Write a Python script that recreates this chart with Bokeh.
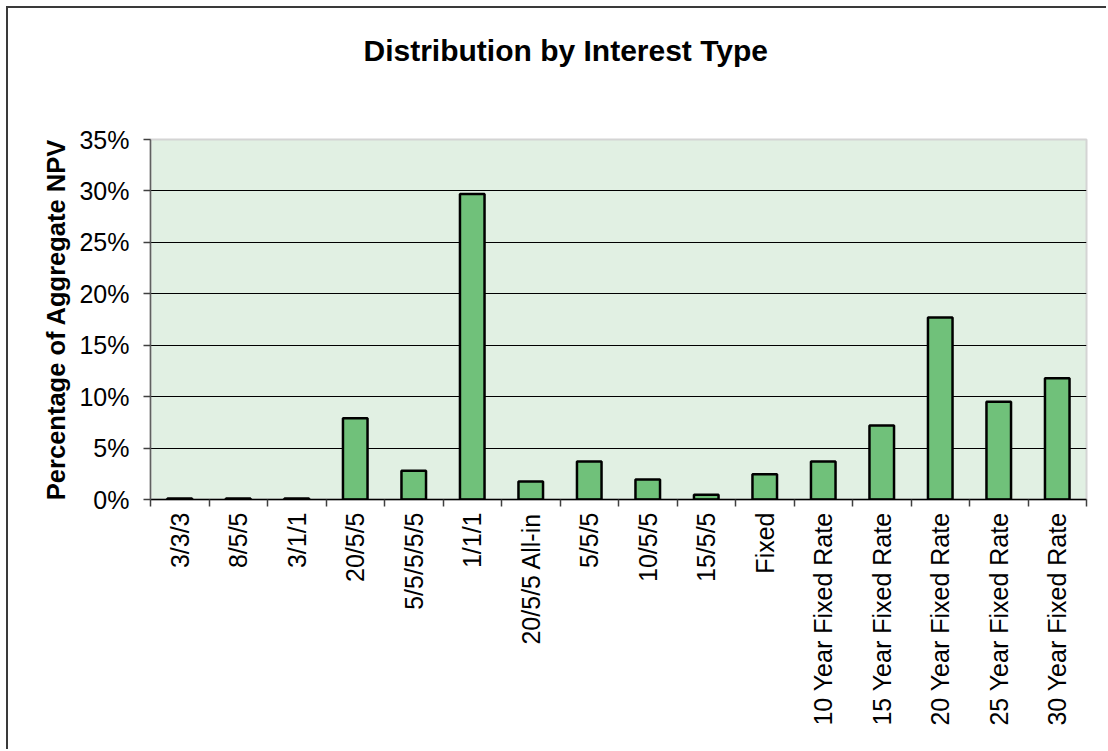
import numpy as np
from bokeh.plotting import figure
from bokeh.models import (ColumnDataSource, FixedTicker, PrintfTickFormatter, Range1d, Title)
from bokeh.embed import file_html
from bokeh.resources import INLINE

# Interest types and their share of aggregate NPV (%)
categories = ["3/3/3", "8/5/5", "3/1/1", "20/5/5", "5/5/5/5/5", "1/1/1",
              "20/5/5 All-in", "5/5/5", "10/5/5", "15/5/5", "Fixed",
              "10 Year Fixed Rate", "15 Year Fixed Rate", "20 Year Fixed Rate",
              "25 Year Fixed Rate", "30 Year Fixed Rate"]
share_pct = [0.1, 0.1, 0.1, 7.9, 2.8, 29.7, 1.75, 3.7, 1.95, 0.45, 2.45,
             3.7, 7.2, 17.7, 9.5, 11.8]
y_ticks = [0, 5, 10, 15, 20, 25, 30, 35]

FONT = "Liberation Sans"

n = len(categories)
centers = np.arange(n) + 0.5
source = ColumnDataSource(data=dict(x=centers, share=share_pct, name=categories))

p = figure(width=1100, height=743, output_backend="svg", toolbar_location=None,
           x_range=Range1d(0, n), y_range=Range1d(0, 35),
           min_border_left=142, min_border_right=22,
           min_border_top=130, min_border_bottom=252)
p.styles = {"margin-left": "6px", "margin-top": "6px",
            "border-left": "2px solid #3a3a3a", "border-top": "2px solid #3a3a3a"}

p.background_fill_color = "#E1F0E3"
p.border_fill_color = "white"
p.outline_line_color = "#D4D4D4"
p.outline_line_width = 2

p.vbar(x="x", top="share", width=0.42, bottom=0, source=source,
       fill_color="#70C17A", line_color="black", line_width=2.5)

# chart title (outermost) plus an empty spacer between it and the plot area
p.title.text = "Distribution by Interest Type"
p.title.text_font = FONT
p.title.text_font_size = "30px"
p.title.text_font_style = "bold"
p.title.text_color = "black"
p.title.align = "left"
p.title.offset = 213
p.title.standoff = 47
p.add_layout(Title(text=" ", text_font_size="10px", standoff=36), "above")

# x axis: labels at category centres, tick marks at the boundaries
xa = p.xaxis[0]
xa.ticker = FixedTicker(ticks=list(centers), minor_ticks=list(range(n + 1)))
xa.major_label_overrides = {float(c): name for c, name in zip(centers, categories)}
xa.major_label_orientation = np.pi / 2
xa.major_label_text_font = FONT
xa.major_label_text_font_size = "25px"
xa.major_label_text_color = "black"
xa.major_label_standoff = 6
xa.major_tick_line_color = None
xa.minor_tick_line_color = "#404040"
xa.minor_tick_line_width = 1.5
xa.minor_tick_out = 7
xa.minor_tick_in = 0
xa.axis_line_color = "black"
xa.axis_line_width = 1.5

# y axis
ya = p.yaxis[0]
ya.ticker = FixedTicker(ticks=y_ticks)
ya.formatter = PrintfTickFormatter(format="%d%%")
ya.major_label_text_font = FONT
ya.major_label_text_font_size = "25px"
ya.major_label_text_color = "black"
ya.major_label_standoff = 14
ya.major_tick_line_color = "#404040"
ya.major_tick_line_width = 1.5
ya.major_tick_out = 7
ya.major_tick_in = 0
ya.minor_tick_line_color = None
ya.axis_line_color = "#606060"
ya.axis_line_width = 1.5
ya.axis_label = "Percentage of Aggregate NPV"
ya.axis_label_text_font = FONT
ya.axis_label_text_font_size = "25.5px"
ya.axis_label_text_font_style = "bold"
ya.axis_label_text_color = "black"
ya.axis_label_standoff = 6

p.xgrid.grid_line_color = None
p.ygrid.grid_line_color = "black"
p.ygrid.grid_line_width = 1.2

open("out.html", "w").write(file_html(p, INLINE))
